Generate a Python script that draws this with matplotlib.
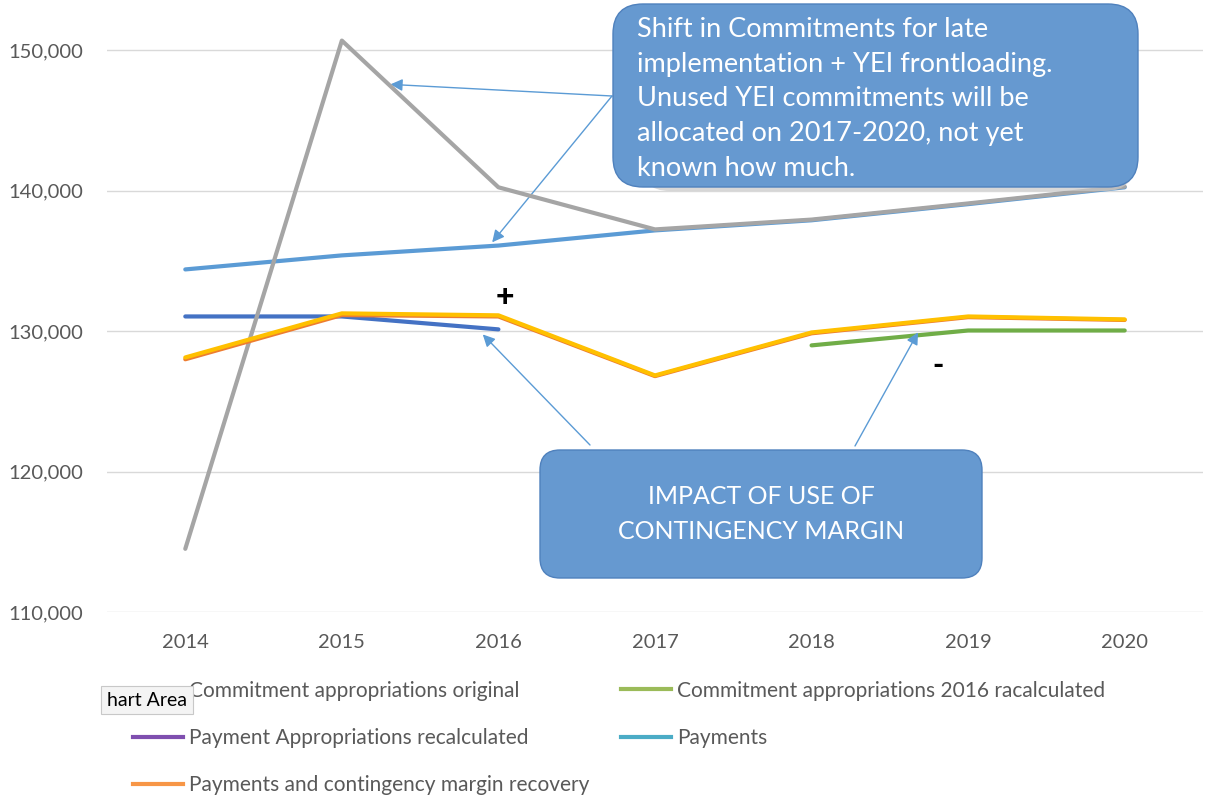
import numpy as np
import matplotlib
matplotlib.use('Agg')
import matplotlib.pyplot as plt
from matplotlib.lines import Line2D
from matplotlib.patches import FancyBboxPatch

plt.rcParams['font.family'] = ['Lato', 'DejaVu Sans']

# data
years = ['2014', '2015', '2016', '2017', '2018', '2019', '2020']
ca_original = [114500, 150700, 140250, 137250, 137950, 139100, 140300]
ca_2016_recalc = [np.nan, np.nan, np.nan, np.nan, 128990, 130050, 130050]
pa_recalc = [131050, 131050, 130130, np.nan, np.nan, np.nan, np.nan]
payments = [134400, 135400, 136100, 137180, 137900, 139050, 140250]
payments_cm_orange = [128000, 131150, 131050, 126800, 129850, 131000, 130800]
payments_cm = [128130, 131270, 131130, 126850, 129910, 131050, 130840]

W, H = 1212, 799
fig = plt.figure(figsize=(W / 100, H / 100), dpi=100)
ax = fig.add_axes([107 / W, 1 - 612 / H, (1203 - 107) / W, 612 / H])

x = np.arange(len(years))
ax.plot(x, payments, color='#5B9BD5', lw=3, zorder=3, solid_capstyle='round')
ax.plot(x, ca_original, color='#A5A5A5', lw=3, zorder=4, solid_capstyle='round')
ax.plot(x, ca_2016_recalc, color='#70AD47', lw=3, zorder=3, solid_capstyle='round')
ax.plot(x, pa_recalc, color='#4472C4', lw=3, zorder=3, solid_capstyle='round')
ax.plot(x, payments_cm_orange, color='#ED7D31', lw=3, zorder=4, solid_capstyle='round')
ax.plot(x, payments_cm, color='#FFC000', lw=3, zorder=5, solid_capstyle='round')

ax.set_xlim(-0.5, len(years) - 0.5)
ax.set_ylim(110000, 153590)
ax.set_yticks([110000, 120000, 130000, 140000, 150000])
ax.yaxis.set_major_formatter(matplotlib.ticker.FuncFormatter(lambda v, p: f'{v:,.0f}'))
ax.set_xticks(x)
ax.set_xticklabels(years)
ax.tick_params(length=0, labelsize=14.5, colors='#595959')
ax.tick_params(axis='x', pad=16)
ax.tick_params(axis='y', pad=17)
ax.grid(axis='y', color='#D9D9D9', lw=1)
ax.set_axisbelow(True)
for s in ax.spines.values():
    s.set_visible(False)

# overlay in pixel coords for callouts
ov = fig.add_axes([0, 0, 1, 1], zorder=10)
ov.set_xlim(0, W)
ov.set_ylim(H, 0)
ov.axis('off')
ov.patch.set_alpha(0)

box_fc = '#6699D0'
box_ec = '#4F81BD'
# soft shadow under the top callout
ov.add_patch(FancyBboxPatch((640, 8), 495, 183, boxstyle='round,pad=0,rounding_size=30',
                            fc='#C8C8C8', ec='none', alpha=0.7))
ov.add_patch(FancyBboxPatch((613, 4), 525, 183, boxstyle='round,pad=0,rounding_size=30',
                            fc=box_fc, ec=box_ec, lw=1))
ov.text(637, 99, 'Shift in Commitments for late\nimplementation + YEI frontloading.\n'
        'Unused YEI commitments will be\nallocated on 2017-2020, not yet\nknown how much.',
        color='white', fontsize=19.5, ha='left', va='center', linespacing=1.49)

ov.add_patch(FancyBboxPatch((540, 450), 442, 128, boxstyle='round,pad=0,rounding_size=20',
                            fc=box_fc, ec=box_ec, lw=1))
ov.text(761, 514, 'IMPACT OF USE OF\nCONTINGENCY MARGIN', color='white', fontsize=18,
        ha='center', va='center', linespacing=1.6)

arrow = dict(arrowstyle='-|>', color='#5B9BD5', lw=1, mutation_scale=18, shrinkA=0, shrinkB=0)
ax.annotate('', xy=(1.31, 147580), xytext=(612, 96), textcoords=ov.transData, arrowprops=arrow)
ax.annotate('', xy=(1.96, 136330), xytext=(612, 96), textcoords=ov.transData, arrowprops=arrow)
ax.annotate('', xy=(1.90, 129770), xytext=(590, 445), textcoords=ov.transData, arrowprops=arrow)
ax.annotate('', xy=(4.68, 129920), xytext=(855, 446), textcoords=ov.transData, arrowprops=arrow)

ov.text(505, 297, '+', fontsize=23, fontweight='black', ha='center', va='center', color='black')
ov.text(938, 366, '-', fontsize=22, fontweight='black', ha='center', va='center', color='black')

# legend
leg_kw = dict(frameon=False, fontsize=15, handlelength=2.4, handletextpad=0.29,
              labelspacing=1.3, labelcolor='#595959', loc='upper left')
h1 = [Line2D([], [], color='#A5A5A5', lw=3), Line2D([], [], color='#7F4FAF', lw=3),
      Line2D([], [], color='#F79646', lw=3)]
l1 = ['Commitment appropriations original', 'Payment Appropriations recalculated',
      'Payments and contingency margin recovery']
h2 = [Line2D([], [], color='#9BBB59', lw=3), Line2D([], [], color='#4BACC6', lw=3)]
l2 = ['Commitment appropriations 2016 racalculated', 'Payments']
fig.legend(h1, l1, bbox_to_anchor=(114 / W, 1 - 662 / H), **leg_kw)
fig.legend(h2, l2, bbox_to_anchor=(602 / W, 1 - 662 / H), **leg_kw)

ov.text(107, 700, 'hart Area', fontsize=14, color='black', ha='left', va='center', zorder=20,
        bbox=dict(boxstyle='square,pad=0.3', fc='#F4F4F4', ec='#C8C8C8', lw=0.8))

fig.savefig('out.png', dpi=100)
